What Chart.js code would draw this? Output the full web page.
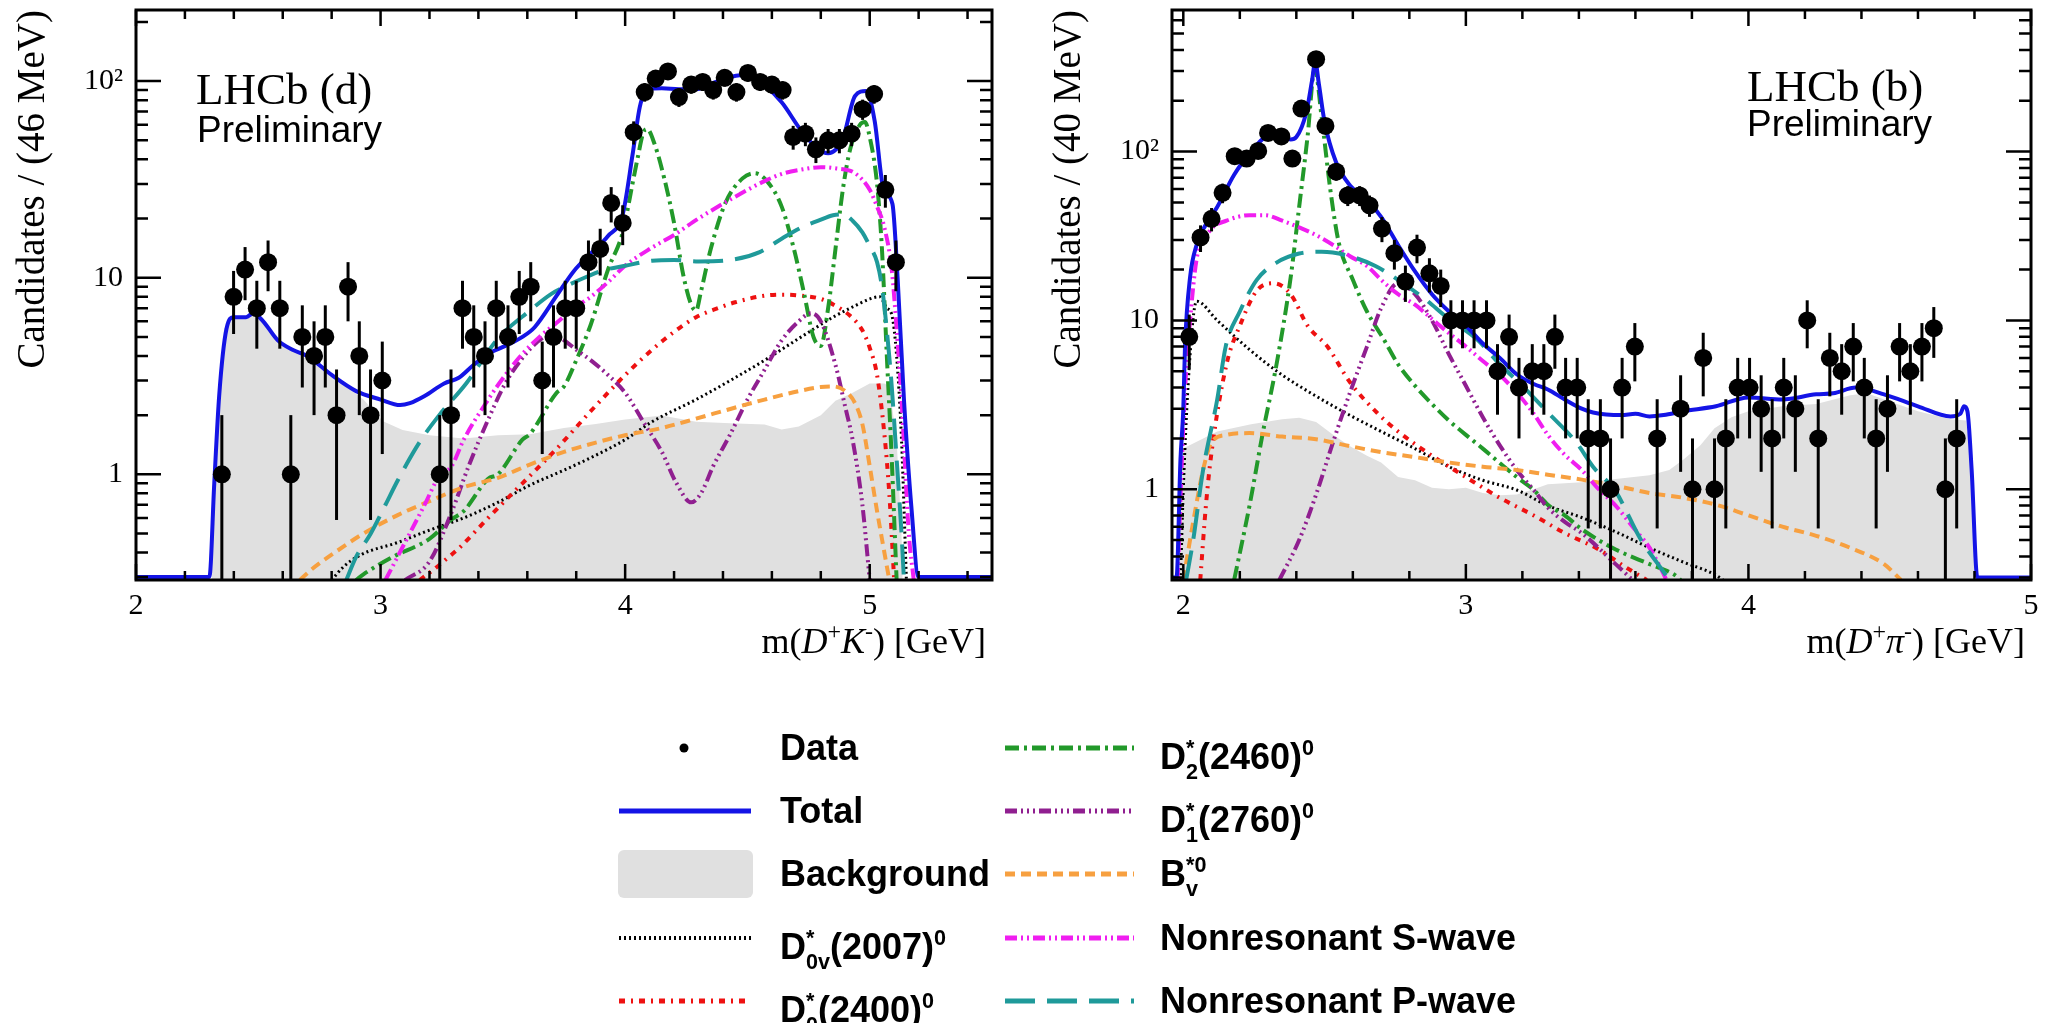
<!DOCTYPE html>
<html>
<head>
<meta charset="utf-8">
<script src="https://cdn.jsdelivr.net/npm/chart.js@4.4.1/dist/chart.umd.min.js"></script>
<style>
  body { margin: 0; background: #fff; width: 2050px; height: 1023px; overflow: hidden; position: relative; }
  canvas { position: absolute; top: 0; }
  #cDK { left: 0; }
  #cDpi { left: 1036px; }
  #legendKeys { left: 0; top: 700px; }
  .lg { position: absolute; font: bold 36px "Liberation Sans", Arial, sans-serif; color: #000;
        white-space: nowrap; line-height: 60px; height: 60px; }
  .st { display: inline-flex; flex-direction: column; font-size: 0.6em; line-height: 1.1; vertical-align: 14px; }
  .sp { font-size: 0.6em; vertical-align: 14px; }
</style>
</head>
<body>
<canvas id="cDK" width="1025" height="700"></canvas>
<canvas id="cDpi" width="1014" height="700"></canvas>
<canvas id="legendKeys" width="2050" height="323"></canvas>

<div class="lg" style="left:780px; top:718px">Data</div>
<div class="lg" style="left:780px; top:781px">Total</div>
<div class="lg" style="left:780px; top:844px">Background</div>
<div class="lg" style="left:780px; top:908px">D<span class="st"><span>*</span><span>0v</span></span>(2007)<span class="sp">0</span></div>
<div class="lg" style="left:780px; top:971px">D<span class="st"><span>*</span><span>0</span></span>(2400)<span class="sp">0</span></div>
<div class="lg" style="left:1160px; top:718px">D<span class="st"><span>*</span><span>2</span></span>(2460)<span class="sp">0</span></div>
<div class="lg" style="left:1160px; top:781px">D<span class="st"><span>*</span><span>1</span></span>(2760)<span class="sp">0</span></div>
<div class="lg" style="left:1160px; top:844px">B<span class="st"><span>*0</span><span>v</span></span></div>
<div class="lg" style="left:1160px; top:908px">Nonresonant S-wave</div>
<div class="lg" style="left:1160px; top:971px">Nonresonant P-wave</div>

<script>
// ---- axis ticks ----
var xTicksDK = [2, 3, 4, 5];
var xTicksDpi = [2, 3, 4, 5];
var yTicks = [1, 10, 100];
var yTickLabels = ['1', '10', '10\u00b2'];

// ---- m(D+K-) panel: data (bin centre, candidates) ----
var dataDK_x = [2.351, 2.399, 2.446, 2.494, 2.540, 2.588, 2.633, 2.680, 2.728, 2.774, 2.820, 2.867, 2.913, 2.959, 3.007,
  3.242, 3.288, 3.335, 3.381, 3.427, 3.473, 3.521, 3.567, 3.614, 3.661, 3.707, 3.755, 3.800, 3.850, 3.898, 3.943, 3.990,
  4.035, 4.080, 4.125, 4.175, 4.220, 4.270, 4.317, 4.360, 4.407, 4.455, 4.502, 4.552, 4.600, 4.644, 4.687, 4.737,
  4.780, 4.830, 4.876, 4.926, 4.971, 5.018, 5.064, 5.107];
var dataDK_n = [1, 8, 11, 7, 12, 7, 1, 5, 4, 5, 2, 9, 4, 2, 3,
  1, 2, 7, 5, 4, 7, 5, 8, 9, 3, 5, 7, 7, 12, 14, 24, 19,
  55, 88, 103, 112, 83, 96, 99, 90, 104, 88, 110, 99, 96, 90, 52, 54,
  45, 50, 50, 54, 72, 86, 28, 12];

// fit curves [m, value]
var totalDK = [[2.0,0.3],[2.30,0.3],[2.32,0.9],[2.34,2.5],[2.37,5.5],[2.40,6.3],[2.45,6.3],[2.48,6.6],[2.52,6.0],
  [2.58,4.8],[2.64,4.3],[2.70,4.0],[2.80,3.2],[2.90,2.65],[3.00,2.4],[3.08,2.25],[3.12,2.3],[3.18,2.5],[3.26,2.9],
  [3.32,3.1],[3.38,3.6],[3.44,4.1],[3.51,4.5],[3.58,5.0],[3.63,5.6],[3.72,8.1],[3.79,10.8],[3.86,13.3],[3.93,16.3],
  [3.99,21],[4.03,42],[4.06,74],[4.09,91],[4.15,92],[4.22,91],[4.29,91],[4.36,98],[4.43,105],[4.47,107],[4.52,103],
  [4.57,95],[4.64,78],[4.72,56],[4.79,45],[4.83,43],[4.89,51],[4.94,84],[4.985,89],[5.02,63],[5.057,28],[5.093,23.7],
  [5.114,10],[5.14,2.4],[5.17,0.69],[5.2,0.3],[5.5,0.3]];
var bkgDK = [[2.31,0.29],[2.33,1.5],[2.36,5.5],[2.40,6.2],[2.48,6.5],[2.52,6.0],[2.60,4.6],[2.69,3.9],[2.80,3.2],
  [2.93,2.4],[3.01,1.86],[3.09,1.68],[3.20,1.58],[3.34,1.52],[3.48,1.58],[3.61,1.6],[3.75,1.72],[3.88,1.8],[4.0,1.9],
  [4.15,1.99],[4.29,1.85],[4.43,1.82],[4.57,1.79],[4.64,1.69],[4.71,1.75],[4.80,2.0],[4.86,2.37],[4.93,2.6],[5.0,2.9],
  [5.06,2.9],[5.08,2.8],[5.11,1.5],[5.13,0.5],[5.135,0.29]];
var d2460DK = [[2.90,0.29],[2.93,0.31],[3.05,0.38],[3.2,0.47],[3.29,0.59],[3.34,0.65],[3.44,0.95],[3.48,1.0],[3.58,1.5],
  [3.61,1.6],[3.72,2.6],[3.75,2.8],[3.80,3.8],[3.86,5.8],[3.93,11],[3.99,17],[4.03,30],[4.05,40],[4.075,55],[4.09,57],
  [4.12,48],[4.16,32],[4.20,19],[4.24,10],[4.27,7.3],[4.29,6.8],[4.31,8.5],[4.35,14],[4.41,24],[4.48,32],[4.53,34],
  [4.58,31],[4.64,23],[4.69,14],[4.73,8.5],[4.77,5.0],[4.80,4.5],[4.83,7.0],[4.86,14],[4.89,28],[4.92,45],[4.96,60],
  [4.98,62],[5.0,52],[5.03,30],[5.05,14],[5.07,4],[5.09,1.2],[5.11,0.29]];
var swaveDK = [[3.02,0.29],[3.1,0.45],[3.18,0.7],[3.24,0.98],[3.29,1.1],[3.34,1.5],[3.44,2.4],[3.51,3.2],[3.58,4.1],
  [3.65,5.0],[3.72,5.9],[3.79,7.0],[3.86,8.0],[3.93,9.5],[4.0,11.5],[4.10,14],[4.2,16.5],[4.3,20],[4.43,25],[4.57,31],
  [4.65,34],[4.72,35.5],[4.80,36.5],[4.86,36],[4.94,34],[5.0,28],[5.03,23],[5.06,18],[5.09,11],[5.11,5.5],[5.13,2.4],
  [5.16,0.5],[5.18,0.29]];
var pwaveDK = [[2.86,0.29],[2.90,0.38],[2.96,0.5],[3.02,0.7],[3.07,0.93],[3.16,1.46],[3.24,2.0],[3.35,2.9],[3.48,4.9],
  [3.61,6.8],[3.70,8.3],[3.77,9.2],[3.85,10.2],[3.91,10.9],[4.0,11.5],[4.11,12.2],[4.2,12.3],[4.3,12.1],[4.43,12.3],
  [4.55,13.5],[4.64,15.8],[4.72,18],[4.79,19.5],[4.85,20.8],[4.89,21],[4.93,19.5],[4.97,17],[5.0,14.5],[5.03,12],
  [5.05,9],[5.07,5.4],[5.09,2.8],[5.11,1.2],[5.13,0.5],[5.14,0.29]];
var d2400DK = [[3.16,0.29],[3.22,0.33],[3.29,0.39],[3.32,0.42],[3.44,0.6],[3.58,0.9],[3.72,1.35],[3.86,2.1],[4.0,3.2],
  [4.11,4.3],[4.2,5.3],[4.29,6.3],[4.38,7.0],[4.45,7.5],[4.57,8.1],[4.65,8.2],[4.72,8.1],[4.80,7.8],[4.86,7.2],
  [4.92,6.4],[4.97,5.4],[5.0,4.4],[5.03,3.2],[5.06,1.6],[5.08,0.8],[5.10,0.29]];
var d2007DK = [[2.80,0.29],[2.85,0.34],[2.92,0.39],[3.07,0.45],[3.2,0.52],[3.34,0.6],[3.48,0.72],[3.61,0.88],[3.75,1.05],
  [3.88,1.25],[4.0,1.5],[4.11,1.85],[4.29,2.4],[4.43,3.0],[4.57,3.8],[4.72,5.0],[4.86,6.4],[4.95,7.3],[5.0,7.8],
  [5.04,8.0],[5.07,7.0],[5.09,6.5],[5.11,4],[5.13,1.5],[5.15,0.29]];
var bvDK = [[2.67,0.29],[2.72,0.33],[2.80,0.39],[2.93,0.5],[3.07,0.62],[3.2,0.73],[3.34,0.86],[3.48,0.96],[3.61,1.12],
  [3.75,1.3],[3.88,1.45],[4.0,1.58],[4.15,1.72],[4.29,1.92],[4.43,2.15],[4.57,2.4],[4.71,2.65],[4.80,2.78],[4.85,2.8],
  [4.90,2.65],[4.94,2.3],[4.97,1.8],[5.0,1.1],[5.03,0.65],[5.06,0.4],[5.08,0.29]];
var d2760DK = [[3.10,0.29],[3.2,0.36],[3.29,0.64],[3.36,1.1],[3.44,1.9],[3.51,2.9],[3.58,3.9],[3.64,4.7],[3.69,5.1],
  [3.74,4.9],[3.80,4.3],[3.86,3.8],[3.93,3.2],[4.0,2.6],[4.08,1.8],[4.15,1.3],[4.21,0.9],[4.27,0.72],[4.31,0.8],
  [4.36,1.1],[4.43,1.6],[4.50,2.4],[4.57,3.4],[4.64,4.8],[4.71,6.0],[4.76,6.6],[4.80,6.0],[4.86,3.6],[4.90,2.2],
  [4.93,1.5],[4.97,0.7],[5.0,0.29]];

// ---- m(D+pi-) panel ----
var dataDpi_x = [2.021, 2.061, 2.100, 2.139, 2.182, 2.224, 2.265, 2.300, 2.347, 2.386, 2.418, 2.470, 2.503, 2.541,
  2.582, 2.624, 2.659, 2.703, 2.747, 2.786, 2.827, 2.871, 2.911, 2.947, 2.988, 3.029, 3.073, 3.112, 3.153, 3.188,
  3.235, 3.276, 3.315, 3.353, 3.394, 3.433, 3.476, 3.512, 3.553, 3.598,
  3.677, 3.760, 3.802, 3.840, 3.880, 3.920, 3.962, 4.004, 4.045, 4.084, 4.125, 4.166, 4.208, 4.247, 4.288, 4.330,
  4.371, 4.410, 4.452, 4.492, 4.535, 4.573, 4.614, 4.656, 4.697, 4.737];
var dataDpi_n = [8, 31, 40, 57, 94, 91, 101, 129, 123, 91, 180, 353, 142, 76,
  55, 55, 48, 35, 25, 17, 27, 19, 16, 10, 10, 10, 10, 5, 8, 4,
  5, 5, 8, 4, 4, 2, 2, 1, 4, 7,
  2, 3, 1, 6, 1, 2, 4, 4, 3, 2, 4, 3, 10, 2, 6, 5,
  7, 4, 2, 3, 7, 5, 7, 9, 1, 2];

var totalDpi = [[1.96,0.3],[1.976,0.3],[1.99,1.5],[2.0,3],[2.006,7],[2.024,18],[2.047,28],[2.08,37],[2.12,47],
  [2.18,73],[2.24,100],[2.29,122],[2.34,127],[2.38,118],[2.40,122],[2.435,170],[2.455,260],[2.467,340],[2.48,250],
  [2.50,150],[2.54,87],[2.59,63],[2.65,52],[2.70,41],[2.76,28],[2.82,19.5],[2.88,14.3],[2.94,11.3],[3.0,9.3],
  [3.06,7.3],[3.12,6.0],[3.18,4.8],[3.24,4.2],[3.29,3.9],[3.35,3.4],[3.41,3.0],[3.45,2.85],[3.55,2.75],[3.6,2.8],
  [3.65,2.7],[3.70,2.75],[3.77,2.9],[3.885,3.1],[4.0,3.5],[4.12,3.4],[4.24,3.65],[4.3,3.7],[4.38,4.0],[4.48,3.65],
  [4.6,3.1],[4.715,2.7],[4.75,2.8],[4.763,3.1],[4.775,2.9],[4.79,1.3],[4.81,0.3],[5.0,0.3]];
var bkgDpi = [[1.975,0.29],[1.985,1.7],[2.01,1.78],[2.12,2.2],[2.24,2.43],[2.35,2.6],[2.41,2.65],[2.47,2.5],[2.53,2.1],
  [2.59,1.8],[2.65,1.58],[2.70,1.44],[2.76,1.18],[2.82,1.13],[2.88,1.02],[2.94,1.0],[3.0,1.02],[3.06,0.95],[3.12,0.92],
  [3.18,0.93],[3.24,1.0],[3.29,1.07],[3.41,1.1],[3.53,1.15],[3.65,1.21],[3.72,1.3],[3.77,1.5],[3.83,1.82],[3.88,2.3],
  [3.94,2.67],[4.0,2.9],[4.12,3.1],[4.24,3.2],[4.36,3.6],[4.42,3.7],[4.48,3.4],[4.6,2.9],[4.715,2.6],[4.77,2.55],
  [4.79,1.5],[4.80,0.29]];
var d2460Dpi = [[2.18,0.29],[2.235,0.81],[2.28,2.1],[2.33,5.5],[2.38,18],[2.41,47],[2.44,124],[2.465,310],[2.49,158],
  [2.52,60],[2.55,29],[2.60,17.4],[2.65,11.3],[2.71,7.7],[2.76,5.5],[2.82,4.1],[2.88,3.2],[2.94,2.55],[3.0,2.1],
  [3.06,1.74],[3.12,1.43],[3.18,1.18],[3.24,0.99],[3.29,0.81],[3.35,0.7],[3.41,0.58],[3.53,0.44],[3.65,0.36],
  [3.74,0.31],[3.76,0.29]];
var swaveDpi = [[1.98,0.29],[1.995,1.5],[2.01,5],[2.024,10],[2.047,23],[2.094,34],[2.153,39],[2.235,42],[2.29,42],
  [2.35,39],[2.41,35.6],[2.47,32],[2.53,28],[2.59,24],[2.65,21],[2.70,17.4],[2.76,14.3],[2.82,12.4],[2.88,10.2],
  [2.94,8.4],[3.0,7.0],[3.06,5.75],[3.12,4.75],[3.18,3.74],[3.24,2.8],[3.29,2.1],[3.35,1.6],[3.41,1.3],[3.47,1.0],
  [3.53,0.8],[3.59,0.6],[3.65,0.45],[3.69,0.34],[3.71,0.29]];
var pwaveDpi = [[2.01,0.29],[2.035,0.5],[2.07,1.3],[2.12,3.4],[2.15,7],[2.2,11.3],[2.26,17.4],[2.33,22],[2.41,24.9],
  [2.49,25.5],[2.59,24],[2.68,21],[2.76,17.4],[2.85,13.6],[2.94,10.2],[3.04,7.7],[3.12,5.5],[3.2,4.1],[3.29,2.85],
  [3.39,1.9],[3.45,1.36],[3.53,0.97],[3.62,0.5],[3.68,0.36],[3.72,0.29]];
var d2400Dpi = [[2.06,0.29],[2.08,0.8],[2.1,1.66],[2.153,5.5],[2.2,9.3],[2.26,15],[2.32,16.6],[2.38,14.3],[2.44,9.3],
  [2.51,7.0],[2.59,4.3],[2.68,2.9],[2.76,2.2],[2.88,1.58],[3.0,1.18],[3.12,0.89],[3.24,0.7],[3.35,0.55],[3.47,0.44],
  [3.56,0.35],[3.64,0.29]];
var d2007Dpi = [[1.99,0.29],[2.0,1],[2.02,5],[2.047,13],[2.12,10],[2.235,6.7],[2.35,4.75],[2.47,3.56],[2.59,2.74],
  [2.7,2.2],[2.82,1.74],[2.94,1.36],[3.06,1.13],[3.18,0.99],[3.29,0.8],[3.41,0.68],[3.53,0.56],[3.65,0.45],
  [3.77,0.37],[3.885,0.31],[3.91,0.29]];
var bvDpi = [[2.0,0.29],[2.035,0.64],[2.07,1.3],[2.1,1.9],[2.153,2.1],[2.235,2.15],[2.35,2.05],[2.47,1.98],[2.59,1.8],
  [2.7,1.66],[2.82,1.55],[2.94,1.44],[3.06,1.36],[3.18,1.3],[3.29,1.22],[3.41,1.14],[3.53,1.05],[3.65,0.95],
  [3.77,0.89],[3.885,0.81],[4.0,0.7],[4.12,0.6],[4.24,0.53],[4.36,0.45],[4.48,0.36],[4.54,0.29]];
var d2760Dpi = [[2.34,0.29],[2.41,0.5],[2.47,0.93],[2.53,1.9],[2.59,3.74],[2.65,7],[2.70,11.8],[2.76,16.6],[2.82,14.3],
  [2.88,10],[2.94,6.3],[3.0,4.1],[3.06,2.67],[3.12,1.82],[3.18,1.3],[3.24,0.99],[3.29,0.78],[3.35,0.64],[3.41,0.55],
  [3.53,0.36],[3.59,0.29]];

// ---- styles ----
var styles = {
  total: { color: '#1414e6', dash: [], width: 4 },
  d2007: { color: '#000000', dash: [2, 3], width: 3 },
  d2400: { color: '#ee1111', dash: [6, 6, 2, 6], width: 4 },
  d2460: { color: '#22992a', dash: [14, 5, 3, 5], width: 4 },
  d2760: { color: '#901f90', dash: [12, 4, 2, 4, 2, 4, 2, 4], width: 4 },
  bv:    { color: '#f7a040', dash: [10, 6], width: 4 },
  swave: { color: '#f01ef0', dash: [12, 4, 2, 4, 2, 4], width: 4 },
  pwave: { color: '#1f9a9a', dash: [30, 12], width: 4 }
};
var bkgColor = '#e0e0e0';

function pts(a) {
  return a.map(function (p) { return { x: p[0], y: p[1] }; });
}

function curve(arr, st) {
  return {
    data: pts(arr), showLine: true, pointRadius: 0, borderColor: st.color, borderWidth: st.width,
    borderDash: st.dash, cubicInterpolationMode: 'monotone', fill: false
  };
}

var lhcbPlugin = {
  id: 'lhcb',
  afterDatasetsDraw: function (chart) {
    // statistical error bars on the data
    var ctx = chart.ctx, a = chart.chartArea, x = chart.scales.x, y = chart.scales.y;
    ctx.save();
    ctx.beginPath(); ctx.rect(a.left, a.top, a.width, a.height); ctx.clip();
    ctx.strokeStyle = '#000'; ctx.lineWidth = 3;
    chart.data.datasets[0].data.forEach(function (p) {
      var e = Math.sqrt(p.y);
      var px = x.getPixelForValue(p.x);
      var lo = p.y - e > 0.01 ? y.getPixelForValue(p.y - e) : a.bottom;
      ctx.beginPath();
      ctx.moveTo(px, y.getPixelForValue(p.y + e));
      ctx.lineTo(px, lo);
      ctx.stroke();
    });
    ctx.restore();
  },
  afterDraw: function (chart, args, o) {
    var ctx = chart.ctx, a = chart.chartArea, x = chart.scales.x, y = chart.scales.y;
    ctx.save();
    ctx.strokeStyle = '#000'; ctx.lineWidth = 3;
    ctx.strokeRect(a.left, a.top, a.width, a.height);
    ctx.lineWidth = 2.5;
    // x ticks every 0.2
    for (var k = Math.ceil(x.min * 5); k <= Math.floor(x.max * 5 + 1e-6); k++) {
      var px = x.getPixelForValue(k / 5);
      var len = (k % 5 === 0) ? 16 : 9;
      ctx.beginPath();
      ctx.moveTo(px, a.bottom); ctx.lineTo(px, a.bottom - len);
      ctx.moveTo(px, a.top); ctx.lineTo(px, a.top + len);
      ctx.stroke();
    }
    // log y ticks
    [0.1, 1, 10, 100].forEach(function (d) {
      for (var m = 1; m <= 9; m++) {
        var v = m * d;
        if (v <= y.min || v >= y.max) continue;
        var py = y.getPixelForValue(v);
        var l = m === 1 ? 25 : 12;
        ctx.beginPath();
        ctx.moveTo(a.left, py); ctx.lineTo(a.left + l, py);
        ctx.moveTo(a.right, py); ctx.lineTo(a.right - l, py);
        ctx.stroke();
      }
    });
    // annotations
    ctx.fillStyle = '#000';
    ctx.textBaseline = 'alphabetic';
    ctx.textAlign = 'left';
    o.labels.forEach(function (t) {
      ctx.font = t.font;
      ctx.fillText(t.text, t.x, t.y);
    });
    // x axis title with italics / superscripts
    var fonts = { r: '36px "Liberation Serif"', i: 'italic 36px "Liberation Serif"', s: '24px "Liberation Serif"' };
    var w = 0;
    o.xTitle.forEach(function (p) { ctx.font = fonts[p[1]]; w += ctx.measureText(p[0]).width; });
    var tx = a.right - 6 - w, base = a.bottom + 73;
    o.xTitle.forEach(function (p) {
      ctx.font = fonts[p[1]];
      ctx.fillText(p[0], tx, p[1] === 's' ? base - 14 : base);
      tx += ctx.measureText(p[0]).width;
    });
    ctx.restore();
  }
};

function makeChart(id, c) {
  var datasets = [
    { data: c.dataX.map(function (v, i) { return { x: v, y: c.dataN[i] }; }), pointRadius: 9,
      pointBackgroundColor: '#000', pointBorderWidth: 0, showLine: false },
    curve(c.total, styles.total),
    curve(c.pwave, styles.pwave),
    curve(c.swave, styles.swave),
    curve(c.bv, styles.bv),
    curve(c.d2760, styles.d2760),
    curve(c.d2460, styles.d2460),
    curve(c.d2400, styles.d2400),
    curve(c.d2007, styles.d2007),
    { data: pts(c.bkg), showLine: true, pointRadius: 0, borderWidth: 0, borderColor: bkgColor,
      backgroundColor: bkgColor, fill: 'start', tension: 0 }
  ];
  return new Chart(document.getElementById(id), {
    type: 'scatter',
    data: { datasets: datasets },
    options: {
      responsive: false, animation: false, devicePixelRatio: 1,
      layout: { padding: { top: 10, right: c.padRight, left: 0, bottom: 0 } },
      plugins: {
        legend: { display: false }, tooltip: { enabled: false },
        lhcb: { labels: c.labels, xTitle: c.xTitle }
      },
      scales: {
        x: {
          type: 'linear', min: c.xMin, max: c.xMax,
          grid: { display: false, drawTicks: false }, border: { display: false },
          ticks: { font: { family: 'Liberation Serif', size: 30 }, color: '#000', padding: 8, maxRotation: 0, autoSkip: false },
          afterBuildTicks: function (s) { s.ticks = c.xTicks.map(function (v) { return { value: v }; }); },
          afterFit: function (s) { s.height = 120; s.paddingLeft = 0; s.paddingRight = 0; }
        },
        y: {
          type: 'logarithmic', min: c.yMin, max: c.yMax,
          grid: { display: false, drawTicks: false }, border: { display: false },
          ticks: { font: { family: 'Liberation Serif', size: 30 }, color: '#000', padding: 13, autoSkip: false,
                   callback: function (v, i) { return yTickLabels[i]; } },
          afterBuildTicks: function (s) { s.ticks = yTicks.map(function (v) { return { value: v }; }); },
          afterFit: function (s) { s.width = 136; s.paddingTop = 0; s.paddingBottom = 0; },
          title: { display: true, text: c.yTitle, align: 'end', color: '#000',
                   font: { family: 'Liberation Serif', size: 39 }, padding: { top: 10, bottom: 0 } }
        }
      }
    },
    plugins: [lhcbPlugin]
  });
}

makeChart('cDK', {
  xMin: 2, xMax: 5.5, yMin: 0.29, yMax: 230, xTicks: xTicksDK, padRight: 33,
  dataX: dataDK_x, dataN: dataDK_n,
  total: totalDK, bkg: bkgDK, d2007: d2007DK, d2400: d2400DK, d2460: d2460DK, d2760: d2760DK,
  bv: bvDK, swave: swaveDK, pwave: pwaveDK,
  yTitle: 'Candidates / (46 MeV)',
  xTitle: [['m(', 'r'], ['D', 'i'], ['+', 's'], ['K', 'i'], ['-', 's'], [') [GeV]', 'r']],
  labels: [
    { text: 'LHCb (d)', font: '45px "Liberation Serif"', x: 196, y: 104 },
    { text: 'Preliminary', font: '37px "Liberation Sans"', x: 197, y: 142 }
  ]
});

makeChart('cDpi', {
  xMin: 1.96, xMax: 5.0, yMin: 0.29, yMax: 690, xTicks: xTicksDpi, padRight: 19,
  dataX: dataDpi_x, dataN: dataDpi_n,
  total: totalDpi, bkg: bkgDpi, d2007: d2007Dpi, d2400: d2400Dpi, d2460: d2460Dpi, d2760: d2760Dpi,
  bv: bvDpi, swave: swaveDpi, pwave: pwaveDpi,
  yTitle: 'Candidates / (40 MeV)',
  xTitle: [['m(', 'r'], ['D', 'i'], ['+', 's'], ['\u03c0', 'i'], ['-', 's'], [') [GeV]', 'r']],
  labels: [
    { text: 'LHCb (b)', font: '45px "Liberation Serif"', x: 711, y: 101 },
    { text: 'Preliminary', font: '37px "Liberation Sans"', x: 711, y: 136 }
  ]
});

// ---- legend keys ----
(function () {
  var ctx = document.getElementById('legendKeys').getContext('2d');
  var rows = [48, 111, 174, 238, 301];
  function key(x0, x1, yy, st) {
    ctx.save();
    ctx.strokeStyle = st.color; ctx.lineWidth = st.width + 1; ctx.setLineDash(st.dash);
    ctx.beginPath(); ctx.moveTo(x0, yy); ctx.lineTo(x1, yy); ctx.stroke();
    ctx.restore();
  }
  ctx.fillStyle = '#000';
  ctx.beginPath(); ctx.arc(684, rows[0], 4.5, 0, Math.PI * 2); ctx.fill();
  key(619, 751, rows[1], styles.total);
  ctx.fillStyle = bkgColor;
  ctx.beginPath();
  if (ctx.roundRect) { ctx.roundRect(618, rows[2] - 24, 135, 48, 6); } else { ctx.rect(618, rows[2] - 24, 135, 48); }
  ctx.fill();
  key(619, 751, rows[3], styles.d2007);
  key(619, 751, rows[4], styles.d2400);
  key(1005, 1134, rows[0], styles.d2460);
  key(1005, 1134, rows[1], styles.d2760);
  key(1005, 1134, rows[2], styles.bv);
  key(1005, 1134, rows[3], styles.swave);
  key(1005, 1134, rows[4], styles.pwave);
})();
</script>
</body>
</html>
